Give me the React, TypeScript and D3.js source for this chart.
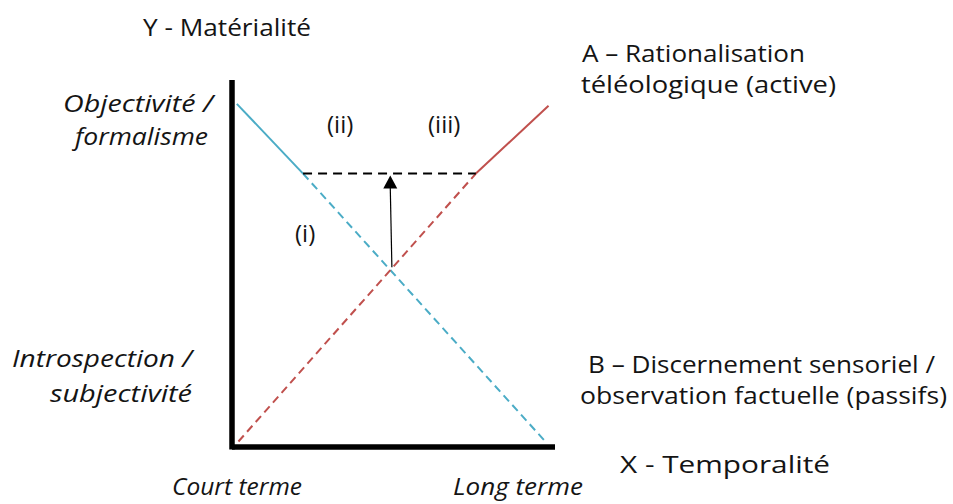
import * as d3 from "d3";

// schematic: X = temporalité (0..10), Y = matérialité (0..10)
const blueSolid: [number, number][] = [[0.15, 9.35], [2.2, 7.45]];
const blueDashed: [number, number][] = [[2.2, 7.45], [9.7, 0.15]];
const redDashed: [number, number][] = [[0.2, 0.15], [7.55, 7.45]];
const redSolid: [number, number][] = [[7.55, 7.45], [9.8, 9.3]];
const threshold: [number, number][] = [[2.2, 7.45], [7.55, 7.45]];
const arrowPts: [number, number][] = [[4.95, 4.9], [4.9, 7.4]];

const axisTitles = ["Y - Matérialité", "X - Temporalité"];
const yLevels = [["Objectivité /", "formalisme"], ["Introspection /", "subjectivité"]];
const xLevels = ["Court terme", "Long terme"];
const seriesA = ["A – Rationalisation", "téléologique (active)"];
const seriesB = ["B – Discernement sensoriel /", "observation factuelle (passifs)"];
const zones = ["(i)", "(ii)", "(iii)"];

const W = 953;
const H = 504;
const BLUE = "#4BACC6";
const RED = "#C0504D";
const FONT = "'Open Sans', 'Noto Sans', sans-serif";

const x = d3.scaleLinear().domain([0, 10]).range([232, 555]);
const y = d3.scaleLinear().domain([0, 10]).range([447, 80]);

const line = d3
  .line<[number, number]>()
  .x((d) => x(d[0]))
  .y((d) => y(d[1]));

type LabelProps = {
  x: number;
  y: number;
  w?: number;
  anchor?: "start" | "end";
  italic?: boolean;
  children: string;
};

const Label = ({ x, y, w, anchor = "start", italic, children }: LabelProps) => (
  <text
    x={x}
    y={y}
    textAnchor={anchor}
    textLength={w}
    lengthAdjust="spacingAndGlyphs"
    style={{
      fontFamily: FONT,
      fontSize: 24,
      fontStyle: italic ? "italic" : "normal",
      fill: "#141414",
      fontVariantLigatures: "none",
    }}
  >
    {children}
  </text>
);

const App = () => {
  // arrowhead
  const tip = arrowPts[1];
  const tx = x(tip[0]);
  const ty = y(tip[1]);
  const head = `M${tx},${ty} L${tx - 7},${ty + 13} L${tx + 7},${ty + 13} Z`;

  return (
    <svg
      width={W}
      height={H}
      style={{ position: "absolute", left: 0, top: 0, background: "#fff" }}
    >
      {/* axes */}
      <line x1={x(0)} x2={x(0)} y1={y(10)} y2={y(0) + 2.5} stroke="#000" strokeWidth={5.5} />
      <line x1={x(0)} x2={x(10)} y1={y(0)} y2={y(0)} stroke="#000" strokeWidth={5.5} />

      {/* series */}
      <path d={line(blueSolid) ?? ""} stroke={BLUE} strokeWidth={2} fill="none" />
      <path d={line(blueDashed) ?? ""} stroke={BLUE} strokeWidth={2} fill="none" strokeDasharray="8,5" />
      <path d={line(redDashed) ?? ""} stroke={RED} strokeWidth={2} fill="none" strokeDasharray="8,5" />
      <path d={line(redSolid) ?? ""} stroke={RED} strokeWidth={2} fill="none" />
      <path d={line(threshold) ?? ""} stroke="#000" strokeWidth={2} fill="none" strokeDasharray="9,6" />

      {/* arrow */}
      <line
        x1={x(arrowPts[0][0])}
        y1={y(arrowPts[0][1])}
        x2={tx}
        y2={ty + 12}
        stroke="#000"
        strokeWidth={1.2}
      />
      <path d={head} fill="#000" />

      {/* labels */}
      <Label x={143} y={36} w={168}>{axisTitles[0]}</Label>
      <Label x={620} y={473} w={210}>{axisTitles[1]}</Label>

      <Label x={213} y={112} w={150} anchor="end" italic>{yLevels[0][0]}</Label>
      <Label x={208} y={145} w={133} anchor="end" italic>{yLevels[0][1]}</Label>
      <Label x={192} y={367} w={180} anchor="end" italic>{yLevels[1][0]}</Label>
      <Label x={192} y={402} w={142} anchor="end" italic>{yLevels[1][1]}</Label>

      <Label x={172} y={495} w={130} italic>{xLevels[0]}</Label>
      <Label x={453} y={495} w={130} italic>{xLevels[1]}</Label>

      <Label x={582} y={62} w={223}>{seriesA[0]}</Label>
      <Label x={581} y={93} w={255}>{seriesA[1]}</Label>
      <Label x={588} y={373} w={347}>{seriesB[0]}</Label>
      <Label x={580} y={404} w={367}>{seriesB[1]}</Label>

      <Label x={295} y={242}>{zones[0]}</Label>
      <Label x={327} y={133}>{zones[1]}</Label>
      <Label x={428} y={133}>{zones[2]}</Label>
    </svg>
  );
};

export default App;
